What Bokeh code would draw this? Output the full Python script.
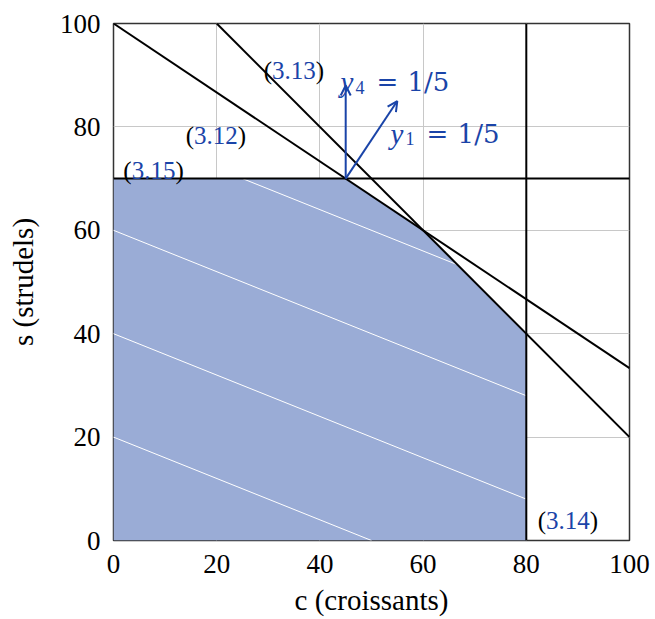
from bokeh.plotting import figure
from bokeh.models import Range1d, FixedTicker, Arrow, OpenHead
from bokeh.core.properties import value
from bokeh.embed import file_html
from bokeh.resources import INLINE

# ---- data ----
ticks = [0, 20, 40, 60, 80, 100]
x_label = "c (croissants)"
y_label = "s (strudels)"
# feasible region vertices (c, s)
region_c = [0, 80, 80, 60, 45, 0]
region_s = [0, 0, 40, 60, 70, 70]
# constraint lines
con_names = ["3.12", "3.13", "3.14", "3.15"]
con_c0 = [0, 20, 80, 0]
con_s0 = [100, 100, 0, 70]
con_c1 = [100, 100, 80, 100]
con_s1 = [33.33, 20, 100, 70]
# iso-objective lines inside region
iso_c0 = [0, 0, 0, 25]
iso_s0 = [20, 40, 60, 70]
iso_c1 = [50, 80, 80, 66.67]
iso_s1 = [0, 8, 28, 53.33]
# dual arrows from vertex
arrow_start = (45, 70)
arrow_end_c = [45, 55]
arrow_end_s = [88, 85]
# constraint label positions (left, baseline)
lab_c = [14.0, 29.1, 82.2, 1.9]
lab_s = [78.3, 90.9, 3.9, 71.6]
# dual labels
dual_sub = ["4", "1"]
dual_c = [44.0, 53.7]
dual_s = [88.6, 78.7]

FONT = "Liberation Serif"
FONT2 = "DejaVu Serif"
BLUE = "#1a44a8"
FILL = "#9aacd6"
FS = 25

p = figure(width=655, height=619, output_backend="svg", toolbar_location=None,
           x_range=Range1d(0, 100), y_range=Range1d(0, 100),
           min_border_left=113, min_border_right=26, min_border_top=23,
           min_border_bottom=79)
p.background_fill_color = "white"
p.border_fill_color = "white"
p.outline_line_color = "#333333"
p.outline_line_width = 1.5

for ax in (p.xaxis, p.yaxis):
    ax.ticker = FixedTicker(ticks=ticks)
    ax.major_tick_line_color = None
    ax.minor_tick_line_color = None
    ax.axis_line_color = None
    ax.major_label_text_font = FONT
    ax.major_label_text_font_size = "27px"
    ax.major_label_text_color = "black"
    ax.axis_label_text_font = FONT
    ax.axis_label_text_font_size = "29px"
    ax.axis_label_text_font_style = "normal"
    ax.axis_label_text_color = "black"
p.xaxis.major_label_standoff = 8
p.yaxis.major_label_standoff = 7
p.xaxis.axis_label = x_label
p.yaxis.axis_label = y_label
p.xaxis.axis_label_standoff = 8
p.yaxis.axis_label_standoff = 18
p.grid.ticker = FixedTicker(ticks=ticks)
p.grid.grid_line_color = "#c8c8c8"
p.grid.grid_line_width = 1

p.patch(region_c, region_s, fill_color=FILL, line_color=None)
p.segment(iso_c0, iso_s0, iso_c1, iso_s1, line_color="white", line_width=1)
p.segment(con_c0, con_s0, con_c1, con_s1, line_color="black", line_width=2)

for ec, es in zip(arrow_end_c, arrow_end_s):
    p.add_layout(Arrow(x_start=arrow_start[0], y_start=arrow_start[1], x_end=ec, y_end=es,
                       line_color=BLUE, line_width=2,
                       end=OpenHead(size=10, line_color=BLUE, line_width=2)))

# constraint labels: black parens, blue numbers
w_paren = 0.333 * FS
w_num = lambda s: sum(0.25 * FS if ch == "." else 0.5 * FS for ch in s)
for name, c, s in zip(con_names, lab_c, lab_s):
    p.text([c], [s], text=["("], text_font=value(FONT), text_font_size=f"{FS}px",
           text_color="black", text_baseline="alphabetic", text_align="left")
    p.text([c], [s], text=[name], text_font=value(FONT), text_font_size=f"{FS}px",
           text_color=BLUE, text_baseline="alphabetic", text_align="left", x_offset=w_paren)
    p.text([c], [s], text=[")"], text_font=value(FONT), text_font_size=f"{FS}px",
           text_color="black", text_baseline="alphabetic", text_align="left",
           x_offset=w_paren + w_num(name))

for sub, c, s in zip(dual_sub, dual_c, dual_s):
    p.text([c], [s], text=["y"], text_font=value(FONT), text_font_size="29px",
           text_font_style="italic", text_color=BLUE, text_baseline="alphabetic")
    p.text([c], [s], text=[sub], text_font=value(FONT), text_font_size="18px",
           text_color=BLUE, text_baseline="alphabetic", x_offset=15, y_offset=5)
    p.text([c], [s], text=["="], text_font=value(FONT2), text_font_size="26px",
           text_color=BLUE, text_baseline="alphabetic", x_offset=36)
    p.text([c], [s], text=["1/5"], text_font=value(FONT2), text_font_size="26px",
           text_color=BLUE, text_baseline="alphabetic", x_offset=67)

open("out.html", "w").write(file_html(p, INLINE))
